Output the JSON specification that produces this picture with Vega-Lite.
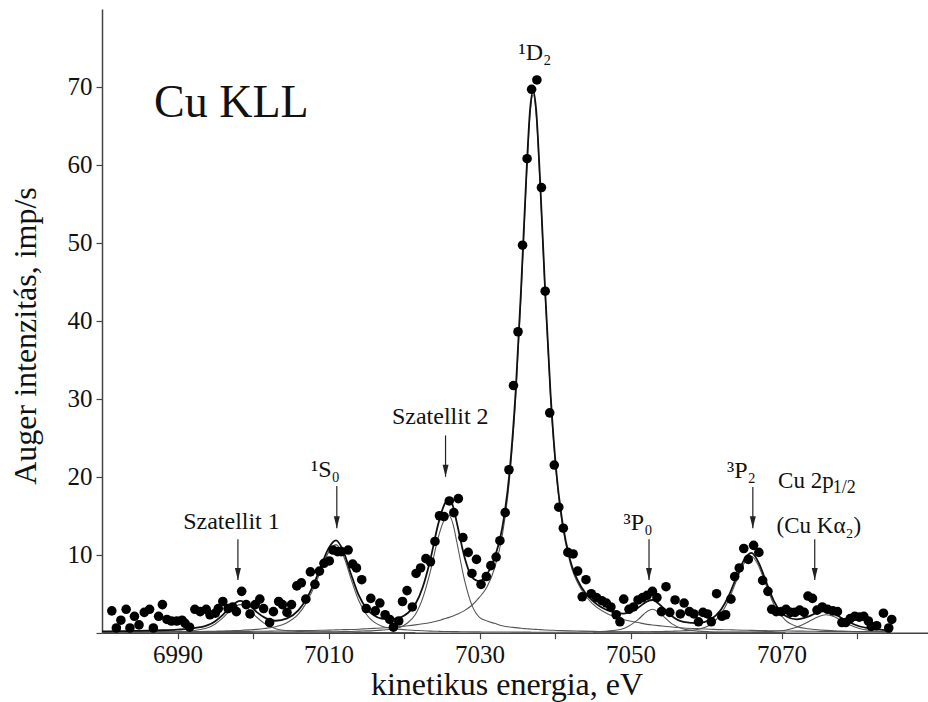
{
"$schema":"https://vega.github.io/schema/vega-lite/v6.json",
"width":826,"height":623.7,
"autosize":{"type":"none"},
"padding":{"left":102,"top":9,"right":0,"bottom":70},
"background":"white",
"config":{"view":{"stroke":null},"font":"Liberation Serif","text":{"font":"Liberation Serif"},
 "axis":{"grid":false,"domainColor":"#444","domainWidth":1.5,"tickColor":"#444","tickWidth":1.2,"tickSize":6,"labelFont":"Liberation Serif","labelFontSize":25,"labelColor":"#111","titleFont":"Liberation Serif","titleFontSize":32,"titleFontWeight":"normal","titleColor":"#111"}},
"datasets":{
"points":[{"x":6981.3,"y":2.8},{"x":6981.9,"y":0.6},{"x":6982.5,"y":1.6},{"x":6983.2,"y":3.0},{"x":6983.7,"y":0.6},{"x":6984.3,"y":2.1},{"x":6984.9,"y":1.0},{"x":6985.6,"y":2.6},{"x":6986.3,"y":3.0},{"x":6986.8,"y":0.6},{"x":6987.5,"y":2.1},{"x":6988.0,"y":3.6},{"x":6988.6,"y":1.7},{"x":6989.2,"y":1.5},{"x":6989.9,"y":1.5},{"x":6990.6,"y":1.6},{"x":6991.0,"y":1.2},{"x":6991.6,"y":0.7},{"x":6992.3,"y":3.0},{"x":6993.0,"y":2.7},{"x":6993.8,"y":3.0},{"x":6994.3,"y":2.3},{"x":6995.0,"y":2.5},{"x":6995.4,"y":3.1},{"x":6996.0,"y":4.0},{"x":6996.7,"y":3.1},{"x":6997.3,"y":3.3},{"x":6997.8,"y":2.7},{"x":6998.5,"y":5.3},{"x":6999.1,"y":3.6},{"x":6999.6,"y":2.4},{"x":7000.3,"y":3.6},{"x":7000.9,"y":4.3},{"x":7001.4,"y":3.1},{"x":7002.2,"y":1.3},{"x":7002.7,"y":2.7},{"x":7003.4,"y":4.0},{"x":7003.9,"y":3.6},{"x":7004.5,"y":2.6},{"x":7005.1,"y":3.6},{"x":7005.8,"y":6.0},{"x":7006.4,"y":6.4},{"x":7007.0,"y":4.3},{"x":7007.6,"y":7.8},{"x":7008.2,"y":6.2},{"x":7008.8,"y":7.9},{"x":7009.4,"y":8.9},{"x":7010.1,"y":9.2},{"x":7010.6,"y":10.6},{"x":7011.2,"y":10.4},{"x":7011.7,"y":10.4},{"x":7012.6,"y":10.6},{"x":7013.2,"y":8.8},{"x":7013.7,"y":8.3},{"x":7014.4,"y":6.8},{"x":7015.0,"y":3.1},{"x":7015.6,"y":4.4},{"x":7016.2,"y":2.8},{"x":7016.8,"y":3.8},{"x":7017.5,"y":2.3},{"x":7018.1,"y":1.7},{"x":7018.6,"y":0.7},{"x":7019.3,"y":1.5},{"x":7019.8,"y":4.0},{"x":7020.4,"y":5.4},{"x":7021.1,"y":3.3},{"x":7021.6,"y":7.6},{"x":7022.2,"y":8.3},{"x":7022.9,"y":9.5},{"x":7023.5,"y":9.1},{"x":7024.1,"y":11.7},{"x":7024.7,"y":15.0},{"x":7025.3,"y":14.9},{"x":7026.0,"y":16.9},{"x":7026.6,"y":15.4},{"x":7027.2,"y":17.2},{"x":7027.8,"y":12.2},{"x":7028.5,"y":10.3},{"x":7029.0,"y":7.6},{"x":7029.6,"y":9.4},{"x":7030.2,"y":6.2},{"x":7030.9,"y":7.2},{"x":7031.5,"y":8.6},{"x":7032.2,"y":9.7},{"x":7032.7,"y":11.8},{"x":7033.4,"y":15.4},{"x":7033.9,"y":20.9},{"x":7034.5,"y":31.7},{"x":7035.1,"y":38.6},{"x":7035.7,"y":49.7},{"x":7036.3,"y":60.8},{"x":7036.9,"y":69.7},{"x":7037.6,"y":70.9},{"x":7038.2,"y":57.1},{"x":7038.7,"y":43.8},{"x":7039.3,"y":28.2},{"x":7039.9,"y":21.5},{"x":7040.5,"y":16.1},{"x":7041.1,"y":13.4},{"x":7041.7,"y":10.3},{"x":7042.4,"y":10.1},{"x":7043.0,"y":7.9},{"x":7043.6,"y":4.6},{"x":7044.1,"y":6.8},{"x":7044.8,"y":5.0},{"x":7045.5,"y":4.5},{"x":7046.2,"y":4.1},{"x":7046.8,"y":3.8},{"x":7047.4,"y":3.3},{"x":7048.1,"y":2.3},{"x":7048.6,"y":1.4},{"x":7049.1,"y":4.3},{"x":7049.8,"y":3.0},{"x":7050.4,"y":3.3},{"x":7051.0,"y":4.2},{"x":7051.6,"y":4.5},{"x":7052.2,"y":4.8},{"x":7052.9,"y":5.3},{"x":7053.5,"y":4.5},{"x":7054.1,"y":2.7},{"x":7054.7,"y":5.9},{"x":7055.2,"y":2.6},{"x":7055.9,"y":4.2},{"x":7056.6,"y":2.4},{"x":7057.1,"y":3.8},{"x":7057.8,"y":2.7},{"x":7058.4,"y":2.4},{"x":7059.0,"y":1.4},{"x":7059.6,"y":2.6},{"x":7060.2,"y":2.4},{"x":7060.7,"y":1.4},{"x":7061.4,"y":5.0},{"x":7062.1,"y":2.1},{"x":7062.6,"y":2.3},{"x":7063.3,"y":4.3},{"x":7063.8,"y":7.2},{"x":7064.4,"y":8.3},{"x":7065.0,"y":10.8},{"x":7065.6,"y":9.4},{"x":7066.3,"y":11.2},{"x":7067.0,"y":10.3},{"x":7067.5,"y":6.7},{"x":7068.2,"y":5.3},{"x":7068.7,"y":3.0},{"x":7069.3,"y":2.7},{"x":7070.0,"y":2.7},{"x":7070.6,"y":3.0},{"x":7071.2,"y":2.6},{"x":7071.8,"y":2.6},{"x":7072.4,"y":2.9},{"x":7073.0,"y":2.6},{"x":7073.5,"y":4.7},{"x":7074.1,"y":4.4},{"x":7074.7,"y":2.9},{"x":7075.4,"y":3.3},{"x":7076.1,"y":3.0},{"x":7076.8,"y":2.8},{"x":7077.4,"y":2.7},{"x":7078.0,"y":1.3},{"x":7078.5,"y":1.3},{"x":7079.1,"y":1.8},{"x":7079.7,"y":2.1},{"x":7080.3,"y":2.0},{"x":7080.9,"y":2.1},{"x":7081.5,"y":1.5},{"x":7081.9,"y":0.8},{"x":7082.6,"y":0.9},{"x":7083.5,"y":2.5},{"x":7084.2,"y":0.6},{"x":7084.6,"y":1.7}],
"curves":[
{"x":6980,"A":0.03,"B":0.05,"D":0.07,"T":0.17},
{"x":6982,"A":0.04,"B":0.06,"D":0.08,"T":0.19},
{"x":6984,"A":0.05,"B":0.07,"D":0.09,"T":0.23},
{"x":6986,"A":0.07,"B":0.08,"D":0.10,"T":0.26},
{"x":6988,"A":0.09,"B":0.09,"D":0.10,"T":0.31},
{"x":6990,"A":0.14,"B":0.12,"C":0.02,"D":0.11,"T":0.39},
{"x":6992,"A":0.25,"B":0.14,"C":0.03,"D":0.12,"T":0.54},
{"x":6993,"A":0.40,"B":0.15,"C":0.03,"D":0.13,"T":0.70},
{"x":6994,"A":0.63,"B":0.17,"C":0.03,"D":0.13,"T":0.96},
{"x":6995,"A":1.12,"B":0.19,"C":0.03,"D":0.14,"T":1.48},
{"x":6996,"A":1.89,"B":0.21,"C":0.04,"D":0.15,"T":2.28},
{"x":6997,"A":2.86,"B":0.25,"C":0.04,"D":0.15,"T":3.30},
{"x":6998.3,"A":3.6,"B":0.29,"C":0.04,"D":0.16,"T":4.09},
{"x":6999.5,"A":2.95,"B":0.36,"C":0.04,"D":0.17,"T":3.52},
{"x":7000.5,"A":1.98,"B":0.43,"C":0.05,"D":0.18,"T":2.64},
{"x":7001.5,"A":1.19,"B":0.53,"C":0.05,"D":0.19,"T":1.96},
{"x":7003,"A":0.50,"B":0.77,"C":0.05,"D":0.21,"T":1.53},
{"x":7004.5,"A":0.26,"B":1.28,"C":0.06,"D":0.23,"T":1.83},
{"x":7006,"A":0.17,"B":2.37,"C":0.07,"D":0.26,"T":2.87},
{"x":7007,"A":0.13,"B":3.73,"C":0.08,"D":0.27,"T":4.21},
{"x":7008,"A":0.10,"B":5.65,"C":0.09,"D":0.29,"T":6.13},
{"x":7009,"A":0.09,"B":8.0,"C":0.10,"D":0.31,"T":8.50},
{"x":7010,"A":0.07,"B":10.3,"C":0.11,"D":0.33,"T":10.81},
{"x":7011,"A":0.06,"B":11.3,"C":0.12,"D":0.36,"T":11.84},
{"x":7012,"A":0.05,"B":9.8,"C":0.14,"D":0.39,"T":10.38},
{"x":7013,"A":0.05,"B":6.84,"C":0.16,"D":0.41,"T":7.46},
{"x":7014,"A":0.04,"B":4.12,"C":0.20,"D":0.45,"T":4.81},
{"x":7015,"A":0.04,"B":2.37,"C":0.23,"D":0.50,"T":3.14},
{"x":7016,"A":0.03,"B":1.38,"C":0.27,"D":0.55,"T":2.23},
{"x":7017,"A":0.03,"B":0.86,"C":0.33,"D":0.60,"T":1.82},
{"x":7018.5,"A":0.03,"B":0.54,"C":0.48,"D":0.70,"T":1.75},
{"x":7019.5,"A":0.03,"B":0.42,"C":0.71,"D":0.78,"T":1.94},
{"x":7020.5,"A":0.02,"B":0.34,"C":1.28,"D":0.88,"T":2.52},
{"x":7021.5,"A":0.02,"B":0.29,"C":2.34,"D":1.0,"T":3.65},
{"x":7022.5,"B":0.24,"C":4.5,"D":1.14,"T":5.90},
{"x":7023.5,"B":0.20,"C":7.9,"D":1.31,"T":9.43},
{"x":7024.5,"B":0.18,"C":12.1,"D":1.52,"T":13.82},
{"x":7025.2,"B":0.16,"C":14.2,"D":1.74,"T":16.1},
{"x":7025.9,"B":0.15,"C":15.1,"D":1.93,"T":17.18},
{"x":7026.5,"B":0.14,"C":13.9,"D":2.14,"T":16.18},
{"x":7027,"B":0.13,"C":11.6,"D":2.35,"T":14.08},
{"x":7028,"B":0.12,"C":6.8,"D":2.83,"T":9.75},
{"x":7029,"B":0.11,"C":3.5,"D":3.52,"T":7.13},
{"x":7030,"B":0.10,"C":1.96,"D":4.55,"T":6.61},
{"x":7031,"B":0.09,"C":1.5,"D":5.9,"T":7.49},
{"x":7032,"B":0.09,"C":1.2,"D":8.3,"T":9.59},
{"x":7033,"B":0.08,"C":0.9,"D":12.4,"T":13.38},
{"x":7034,"B":0.08,"C":0.73,"D":20.0,"T":20.8},
{"x":7034.8,"B":0.07,"C":0.65,"D":30.4,"T":31.12},
{"x":7035.5,"B":0.07,"C":0.57,"D":43.3,"T":43.94},
{"x":7036.2,"B":0.07,"C":0.51,"D":58,"T":58.58},
{"x":7036.7,"B":0.07,"C":0.47,"D":66.6,"T":67.14},
{"x":7037.1,"B":0.06,"C":0.44,"D":69,"T":69.5},
{"x":7037.5,"B":0.06,"C":0.42,"D":66.6,"T":67.08},
{"x":7038,"B":0.06,"C":0.39,"D":58,"T":58.45},
{"x":7038.7,"B":0.06,"C":0.35,"D":43.3,"T":43.7},
{"x":7039.4,"B":0.05,"C":0.32,"D":30.4,"T":30.78},
{"x":7040.2,"B":0.05,"C":0.29,"D":20.0,"E":0.05,"T":20.39},
{"x":7041,"C":0.26,"D":13.7,"E":0.05,"T":14.06},
{"x":7042,"C":0.23,"D":9.0,"E":0.06,"T":9.34},
{"x":7043.5,"C":0.20,"D":5.5,"E":0.08,"T":5.83},
{"x":7045,"C":0.17,"D":3.7,"E":0.12,"F":0.06,"T":4.09},
{"x":7047,"C":0.14,"D":2.4,"E":0.21,"F":0.07,"T":2.86},
{"x":7049,"C":0.11,"D":1.7,"E":0.51,"F":0.09,"T":2.44},
{"x":7051,"C":0.09,"D":1.3,"E":1.68,"F":0.11,"T":3.21},
{"x":7052.2,"C":0.08,"D":1.07,"E":2.73,"F":0.12,"T":4.02},
{"x":7052.9,"C":0.08,"D":0.98,"E":3.0,"F":0.13,"T":4.19},
{"x":7054.2,"C":0.07,"D":0.86,"E":2.22,"F":0.16,"T":3.31},
{"x":7055.5,"C":0.07,"D":0.72,"E":1.13,"F":0.19,"T":2.11},
{"x":7057,"C":0.06,"D":0.61,"E":0.47,"F":0.25,"T":1.39},
{"x":7059,"C":0.06,"D":0.51,"E":0.20,"F":0.45,"T":1.22},
{"x":7060.5,"C":0.05,"D":0.45,"E":0.13,"F":0.98,"G":0.04,"T":1.65},
{"x":7062,"D":0.39,"E":0.09,"F":2.45,"G":0.05,"T":2.98},
{"x":7063,"D":0.37,"E":0.08,"F":4.2,"G":0.06,"T":4.71},
{"x":7064,"D":0.34,"E":0.07,"F":6.6,"G":0.06,"T":7.07},
{"x":7065,"D":0.32,"E":0.06,"F":8.8,"G":0.08,"T":9.25},
{"x":7066,"D":0.30,"E":0.05,"F":9.8,"G":0.09,"T":10.24},
{"x":7067,"D":0.28,"E":0.04,"F":8.5,"G":0.11,"T":8.93},
{"x":7068,"D":0.26,"E":0.04,"F":5.98,"G":0.14,"T":6.42},
{"x":7069,"D":0.24,"E":0.03,"F":3.6,"G":0.18,"T":4.05},
{"x":7070.5,"D":0.22,"E":0.03,"F":1.6,"G":0.32,"T":2.17},
{"x":7072,"D":0.20,"F":0.8,"G":0.69,"T":1.71},
{"x":7073.5,"D":0.19,"F":0.5,"G":1.36,"T":2.05},
{"x":7074.5,"D":0.18,"F":0.4,"G":1.89,"T":2.47},
{"x":7075.9,"D":0.17,"F":0.3,"G":2.3,"T":2.77},
{"x":7077,"D":0.16,"F":0.25,"G":2.05,"T":2.46},
{"x":7078,"D":0.15,"F":0.2,"G":1.51,"T":1.86},
{"x":7080,"D":0.14,"F":0.15,"G":0.63,"T":0.92},
{"x":7082,"D":0.12,"F":0.12,"G":0.25,"T":0.49},
{"x":7084.5,"D":0.11,"F":0.09,"G":0.11,"T":0.31}
],
"arrows":[{"x":6998.0,"y1":12.0,"y2":6.75},{"x":7011.1,"y1":18.8,"y2":13.4},{"x":7025.5,"y1":25.3,"y2":20.0},{"x":7052.45,"y1":12.0,"y2":6.75},{"x":7066.2,"y1":18.7,"y2":13.4},{"x":7074.4,"y1":12.0,"y2":6.75}],
"labels":[{"x":6997.15,"y":13.3,"t":"Szatellit 1"},{"x":7009.6,"y":20.0,"t":"¹S₀"},{"x":7024.8,"y":26.8,"t":"Szatellit 2"},{"x":7037.35,"y":73.4,"t":"¹D₂"},{"x":7051.0,"y":13.2,"t":"³P₀"},{"x":7064.7,"y":19.8,"t":"³P₂"}],
"leftlabels":[{"x":7069.55,"y":18.5,"t":"Cu 2p"},{"x":7069.35,"y":12.8,"t":"(Cu Kα₂)"}],
"sublabels":[{"x":7076.8,"y":17.95,"t":"1/2"}],
"title":[{"x":6986.9,"y":66.2,"t":"Cu KLL"}]
},
"layer":[
{"data":{"name":"curves"},
 "transform":[{"fold":["A","B","C","D","E","F","G"],"as":["comp","v"]},{"filter":"isValid(datum.v)"}],
 "mark":{"type":"line","interpolate":"monotone","color":"#555","strokeWidth":1.1},
 "encoding":{
  "x":{"field":"x","type":"quantitative","scale":{"domain":[6980,7089.4],"nice":false,"zero":false},
   "axis":{"values":[6990,7000,7010,7020,7030,7040,7050,7060,7070,7080],"format":"d","labelExpr":"datum.value % 20 == 10 ? datum.label : ''","labelPadding":4,"labelFlush":false,"labelOverlap":false,"title":"kinetikus energia, eV","titleX":404.5,"titleY":62,"titleAlign":"center","titleBaseline":"alphabetic"}},
  "y":{"field":"v","type":"quantitative","scale":{"domain":[0,80],"nice":false,"zero":false},
   "axis":{"values":[0,10,20,30,40,50,60,70],"format":"d","labelExpr":"datum.value == 0 ? '' : datum.label","labelPadding":4,"labelFlush":false,"labelOverlap":false,"title":"Auger intenzitás, imp/s","titleX":-60,"titleY":326.5,"titleAngle":270,"titleAlign":"center","titleBaseline":"bottom"}},
  "detail":{"field":"comp","type":"nominal"}}},
{"data":{"name":"curves"},
 "mark":{"type":"line","interpolate":"monotone","color":"#111","strokeWidth":1.8},
 "encoding":{
  "x":{"field":"x","type":"quantitative","scale":{"domain":[6980,7089.4],"nice":false,"zero":false}},
  "y":{"field":"T","type":"quantitative","scale":{"domain":[0,80],"nice":false,"zero":false}}}},
{"data":{"name":"points"},
 "mark":{"type":"point","filled":true,"shape":"circle","color":"#000","opacity":1,"size":92},
 "encoding":{
  "x":{"field":"x","type":"quantitative","scale":{"domain":[6980,7089.4],"nice":false,"zero":false}},
  "y":{"field":"y","type":"quantitative","scale":{"domain":[0,80],"nice":false,"zero":false}}}},
{"mark":{"type":"rule","color":"#444","strokeWidth":1.5},
 "encoding":{"y":{"datum":80,"type":"quantitative","scale":{"domain":[0,80],"nice":false,"zero":false}}}},
{"data":{"name":"arrows"},
 "mark":{"type":"rule","color":"#222","strokeWidth":1.2},
 "encoding":{
  "x":{"field":"x","type":"quantitative","scale":{"domain":[6980,7089.4],"nice":false,"zero":false}},
  "y":{"field":"y1","type":"quantitative","scale":{"domain":[0,80],"nice":false,"zero":false}},
  "y2":{"field":"y2"}}},
{"data":{"name":"arrows"},
 "mark":{"type":"point","filled":true,"shape":"M -0.6 -2.4 L 0 0 L 0.6 -2.4 Z","color":"#222","opacity":1,"size":100,"strokeWidth":0},
 "encoding":{
  "x":{"field":"x","type":"quantitative","scale":{"domain":[6980,7089.4],"nice":false,"zero":false}},
  "y":{"field":"y2","type":"quantitative","scale":{"domain":[0,80],"nice":false,"zero":false}}}},
{"data":{"name":"labels"},
 "mark":{"type":"text","font":"Liberation Serif","fontSize":24,"align":"center","baseline":"alphabetic","color":"#111"},
 "encoding":{
  "x":{"field":"x","type":"quantitative","scale":{"domain":[6980,7089.4],"nice":false,"zero":false}},
  "y":{"field":"y","type":"quantitative","scale":{"domain":[0,80],"nice":false,"zero":false}},
  "text":{"field":"t"}}},
{"data":{"name":"leftlabels"},
 "mark":{"type":"text","font":"Liberation Serif","fontSize":23,"align":"left","baseline":"alphabetic","color":"#111"},
 "encoding":{
  "x":{"field":"x","type":"quantitative","scale":{"domain":[6980,7089.4],"nice":false,"zero":false}},
  "y":{"field":"y","type":"quantitative","scale":{"domain":[0,80],"nice":false,"zero":false}},
  "text":{"field":"t"}}},
{"data":{"name":"sublabels"},
 "mark":{"type":"text","font":"Liberation Serif","fontSize":18,"align":"left","baseline":"alphabetic","color":"#111"},
 "encoding":{
  "x":{"field":"x","type":"quantitative","scale":{"domain":[6980,7089.4],"nice":false,"zero":false}},
  "y":{"field":"y","type":"quantitative","scale":{"domain":[0,80],"nice":false,"zero":false}},
  "text":{"field":"t"}}},
{"data":{"name":"title"},
 "mark":{"type":"text","font":"Liberation Serif","fontSize":46,"align":"left","baseline":"alphabetic","color":"#111"},
 "encoding":{
  "x":{"field":"x","type":"quantitative","scale":{"domain":[6980,7089.4],"nice":false,"zero":false}},
  "y":{"field":"y","type":"quantitative","scale":{"domain":[0,80],"nice":false,"zero":false}},
  "text":{"field":"t"}}}
]
}
